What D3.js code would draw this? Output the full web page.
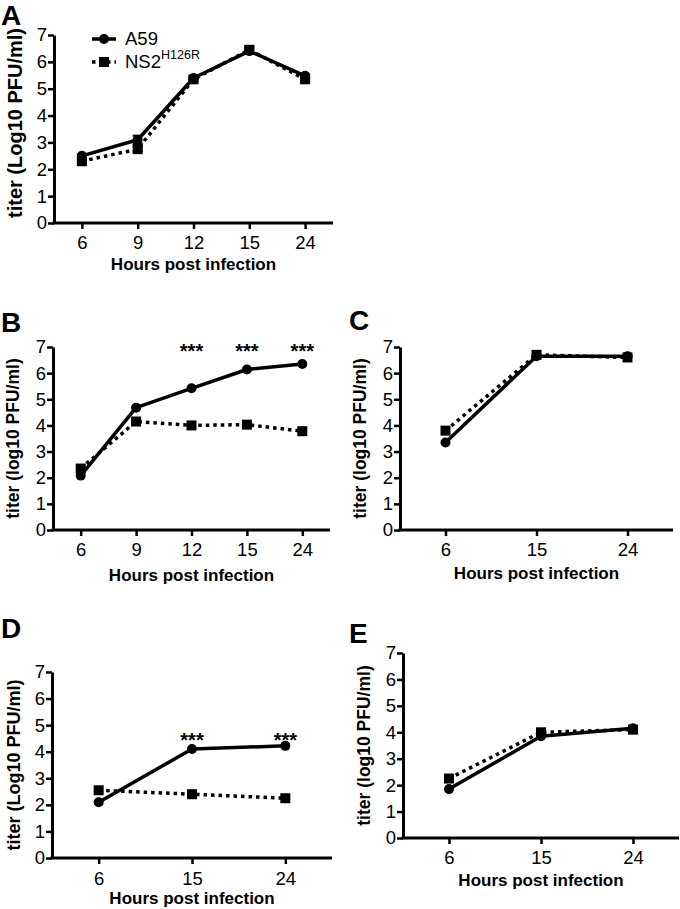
<!DOCTYPE html>
<html>
<head>
<meta charset="utf-8">
<script src="https://cdn.jsdelivr.net/npm/d3@7"></script>
<style>
  html, body { margin: 0; padding: 0; background: #fff; }
  svg { display: block; }
  text { font-family: "Liberation Sans", Arial, Helvetica, sans-serif; fill: #000; }
</style>
</head>
<body>
<svg id="chart" width="680" height="909"></svg>
<script>
// ---------------- DATA ----------------
const yTicks = [0, 1, 2, 3, 4, 5, 6, 7];
const seriesNames = ["A59", "NS2"];
const ns2Superscript = "H126R";
const xTitle = "Hours post infection";
const yTitleUpper = "titer (Log10 PFU/ml)";
const yTitleLower = "titer (log10 PFU/ml)";

const hoursA = ["6", "9", "12", "15", "24"];
const a59A = [2.5, 3.1, 5.4, 6.4, 5.48];
const ns2A = [2.3, 2.75, 5.35, 6.45, 5.35];
const a59ErrA = [0.05, 0.15, 0.05, 0.1, 0.05];
const ns2ErrA = [0.05, 0.08, 0.05, 0.12, 0.05];

const hoursB = ["6", "9", "12", "15", "24"];
const a59B = [2.08, 4.68, 5.42, 6.14, 6.35];
const ns2B = [2.35, 4.15, 4.0, 4.03, 3.78];
const starsB = ["12", "15", "24"];

const hoursC = ["6", "15", "24"];
const a59C = [3.35, 6.65, 6.65];
const ns2C = [3.8, 6.7, 6.6];

const hoursD = ["6", "15", "24"];
const a59D = [2.1, 4.1, 4.22];
const ns2D = [2.55, 2.4, 2.25];
const starsD = ["15", "24"];

const hoursE = ["6", "15", "24"];
const a59E = [1.85, 3.85, 4.15];
const ns2E = [2.25, 4.0, 4.1];

// ---------------- LAYOUT ----------------
const panels = [
  { letter: "A", lx: 1, ly: 25, x0: 54, x1: 333, yTop: 35, yBot: 223,
    hours: hoursA, a59: a59A, ns2: ns2A, a59Err: a59ErrA, ns2Err: ns2ErrA,
    yTitle: yTitleUpper, ytx: 15, ytSize: 20, tickLabOff: 20, titleOff: 41, legend: true, stars: [], starLevel: 0 },
  { letter: "B", lx: 1, ly: 332, x0: 53, x1: 330, yTop: 347, yBot: 530,
    hours: hoursB, a59: a59B, ns2: ns2B, yTitle: yTitleLower, ytx: 13, ytSize: 17.5,
    tickLabOff: 20, titleOff: 45, stars: starsB, starLevel: 7.0 },
  { letter: "C", lx: 349, ly: 330, x0: 400, x1: 673, yTop: 347, yBot: 530,
    hours: hoursC, a59: a59C, ns2: ns2C, yTitle: yTitleLower, ytx: 360, ytSize: 17.5,
    tickLabOff: 20, titleOff: 43, stars: [], starLevel: 0 },
  { letter: "D", lx: 1, ly: 638, x0: 52, x1: 332, yTop: 672, yBot: 858,
    hours: hoursD, a59: a59D, ns2: ns2D, yTitle: yTitleUpper, ytx: 14, ytSize: 18,
    tickLabOff: 21, titleOff: 40, stars: starsD, starLevel: 4.6 },
  { letter: "E", lx: 349, ly: 643, x0: 403, x1: 679, yTop: 653, yBot: 838,
    hours: hoursE, a59: a59E, ns2: ns2E, yTitle: yTitleLower, ytx: 364, ytSize: 17.5,
    tickLabOff: 20, titleOff: 42, stars: [], starLevel: 0 }
];

const svg = d3.select("#chart");
const tickFont = 18.5;

function drawPanel(p) {
  const g = svg.append("g");
  const x = d3.scalePoint().domain(p.hours).range([p.x0, p.x1]).padding(0.5);
  const y = d3.scaleLinear().domain([0, 7]).range([p.yBot, p.yTop]);

  // panel letter
  g.append("text").attr("x", p.lx).attr("y", p.ly)
    .attr("font-size", 28).attr("font-weight", "bold").text(p.letter);

  // y axis
  const ya = g.append("g").attr("transform", `translate(${p.x0},0)`)
    .call(d3.axisLeft(y).tickValues(yTicks).tickFormat(d3.format("d")).tickSize(6).tickSizeOuter(0));
  ya.select(".domain").attr("stroke-width", 3).attr("stroke", "#000");
  ya.selectAll(".tick line").attr("stroke-width", 2.5).attr("stroke", "#000");
  ya.selectAll(".tick text").attr("font-size", tickFont).attr("font-family", "Liberation Sans, Arial, sans-serif")
    .attr("x", -7).attr("fill", "#000");

  // x axis
  const xa = g.append("g").attr("transform", `translate(0,${p.yBot})`)
    .call(d3.axisBottom(x).tickSize(6).tickSizeOuter(0));
  xa.select(".domain").attr("stroke-width", 3).attr("stroke", "#000")
    .attr("d", `M${p.x0 - 1.5},0H${p.x1}`);
  xa.selectAll(".tick line").attr("stroke-width", 2.5).attr("stroke", "#000");
  xa.selectAll(".tick text").attr("font-size", tickFont).attr("font-family", "Liberation Sans, Arial, sans-serif")
    .attr("y", p.tickLabOff).attr("dy", "0.35em").attr("fill", "#000");

  // axis titles
  g.append("text").attr("x", (p.x0 + p.x1) / 2).attr("y", p.yBot + p.titleOff).attr("dy", "0.35em")
    .attr("text-anchor", "middle").attr("font-size", 17).attr("font-weight", "bold").text(xTitle);
  const yc = (p.yTop + p.yBot) / 2 - (p.letter === "A" ? 6 : 0);
  g.append("text").attr("transform", `translate(${p.ytx},${yc}) rotate(-90)`).attr("dy", "0.35em")
    .attr("text-anchor", "middle").attr("font-size", p.ytSize).attr("font-weight", "bold").text(p.yTitle);

  const line = d3.line().x((d, i) => x(p.hours[i])).y(d => y(d));

  // error bars (panel A)
  const errs = [[p.a59, p.a59Err], [p.ns2, p.ns2Err]];
  errs.forEach(([vals, e]) => {
    if (!e) return;
    vals.forEach((v, i) => {
      const cx = x(p.hours[i]);
      g.append("line").attr("x1", cx).attr("x2", cx).attr("y1", y(v - e[i])).attr("y2", y(v + e[i]))
        .attr("stroke", "#000").attr("stroke-width", 2);
      [v - e[i], v + e[i]].forEach(ev => {
        g.append("line").attr("x1", cx - 5).attr("x2", cx + 5).attr("y1", y(ev)).attr("y2", y(ev))
          .attr("stroke", "#000").attr("stroke-width", 2);
      });
    });
  });

  // lines
  g.append("path").attr("d", line(p.a59)).attr("fill", "none").attr("stroke", "#000")
    .attr("stroke-width", 3.5).attr("stroke-linejoin", "round");
  g.append("path").attr("d", line(p.ns2)).attr("fill", "none").attr("stroke", "#000")
    .attr("stroke-width", 3.5).attr("stroke-dasharray", "3.5,4");

  // markers
  g.selectAll(null).data(p.a59).join("circle")
    .attr("cx", (d, i) => x(p.hours[i])).attr("cy", d => y(d)).attr("r", 5).attr("fill", "#000");
  g.selectAll(null).data(p.ns2).join("rect")
    .attr("x", (d, i) => x(p.hours[i]) - 5).attr("y", d => y(d) - 5)
    .attr("width", 10).attr("height", 10).attr("fill", "#000");

  // significance stars
  p.stars.forEach(h => {
    g.append("text").attr("x", x(h)).attr("y", y(p.starLevel) + 11)
      .attr("text-anchor", "middle").attr("font-size", 20).attr("font-weight", "bold").text("***");
  });

  // legend
  if (p.legend) {
    const lg = g.append("g");
    lg.append("line").attr("x1", 92).attr("x2", 116).attr("y1", 39).attr("y2", 39)
      .attr("stroke", "#000").attr("stroke-width", 3.5);
    lg.append("circle").attr("cx", 104).attr("cy", 39).attr("r", 5).attr("fill", "#000");
    lg.append("text").attr("x", 125).attr("y", 39).attr("dy", "0.35em").attr("font-size", 18.5).text(seriesNames[0]);
    lg.append("line").attr("x1", 92).attr("x2", 116).attr("y1", 62).attr("y2", 62)
      .attr("stroke", "#000").attr("stroke-width", 3.5).attr("stroke-dasharray", "3.5,4");
    lg.append("rect").attr("x", 99).attr("y", 57).attr("width", 10).attr("height", 10).attr("fill", "#000");
    const t = lg.append("text").attr("x", 125).attr("y", 62).attr("dy", "0.35em").attr("font-size", 18.5);
    t.append("tspan").text(seriesNames[1]);
    t.append("tspan").attr("font-size", 12.5).attr("dy", "-0.75em").text(ns2Superscript);
  }
}

panels.forEach(drawPanel);
</script>
</body>
</html>
